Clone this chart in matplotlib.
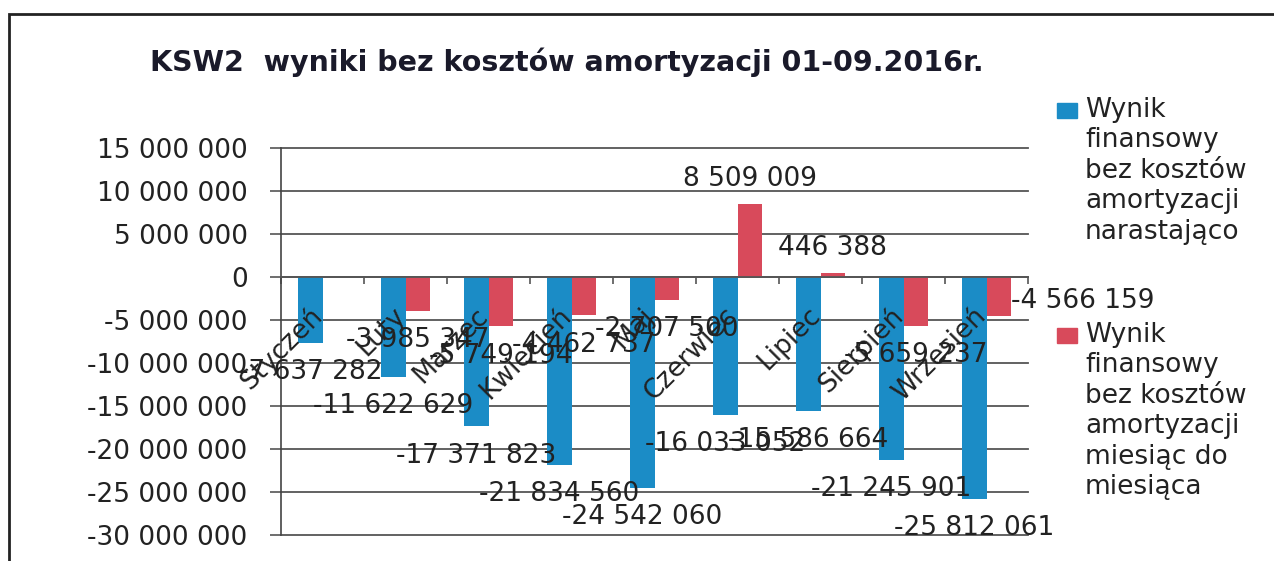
import numpy as np
import matplotlib.pyplot as plt
from matplotlib.patches import Rectangle

months = ["Styczeń", "Luty", "Marzec", "Kwiecień", "Maj", "Czerwiec",
          "Lipiec", "Sierpień", "Wrzesień"]
narastajaco = [-7637282, -11622629, -17371823, -21834560, -24542060,
               -16033052, -15586664, -21245901, -25812061]
miesiac = [np.nan, -3985347, -5749194, -4462737, -2707500,
           8509009, 446388, -5659237, -4566159]
series_names = ["Wynik\nfinansowy\nbez kosztów\namortyzacji\nnarastająco",
                "Wynik\nfinansowy\nbez kosztów\namortyzacji\nmiesiąc do\nmiesiąca"]
title = "KSW2  wyniki bez kosztów amortyzacji 01-09.2016r."

BLUE = "#1b8cc6"
RED = "#d84a5b"
GRID = "#555555"
FS = 19

plt.rcParams["font.family"] = ["DejaVu Sans"]


def fmt(v):
    s = f"{abs(int(round(v))):,}".replace(",", " ")
    return "-" + s if v < 0 else s


fig = plt.figure(figsize=(12.74, 5.61), dpi=100)
ax = fig.add_axes([281 / 1274, 1 - 535 / 561, 747 / 1274, 387 / 561])

x = np.arange(len(months))
w = 0.29
ax.bar(x - w / 2, narastajaco, w, color=BLUE, zorder=2)
ax.bar(x + w / 2, miesiac, w, color=RED, zorder=2)

ax.set_xlim(-0.5, len(months) - 0.5)
ax.set_ylim(-30e6, 15e6)
yt = np.arange(-30e6, 15e6 + 1, 5e6)
ax.set_yticks(yt)
ax.set_yticklabels([fmt(v) for v in yt], fontsize=FS)
ax.yaxis.grid(True, color=GRID, lw=1.3, zorder=0)
for gl in ax.get_ygridlines():
    gl.set_clip_on(False)
ax.tick_params(axis="y", length=8, width=1.2, color=GRID, pad=16, labelcolor="#222222")

for s in ["top", "right"]:
    ax.spines[s].set_visible(False)
ax.spines["left"].set_color("#444444")
ax.spines["left"].set_linewidth(1.2)
ax.spines["bottom"].set_position(("data", 0))
ax.spines["bottom"].set_color(GRID)
ax.spines["bottom"].set_linewidth(1.3)

# category boundaries as tick marks on the zero line
ax.set_xticks(x, [])
ax.tick_params(axis="x", which="major", length=0)
ax.set_xticks(np.arange(-0.5, len(months)), minor=True)
ax.tick_params(axis="x", which="minor", length=5, width=1.2, color=GRID, direction="out")

# rotated month labels under the zero line
for i, m in enumerate(months):
    ax.annotate(m, (i, 0), xytext=(-3, -25), textcoords="offset points",
                ha="right", va="center", rotation=45, rotation_mode="anchor",
                fontsize=FS, color="#222222", zorder=3)

# data labels
for i, v in enumerate(narastajaco):
    ax.annotate(fmt(v), (i - w / 2, v), xytext=(0, -21), textcoords="offset points",
                ha="center", va="center", fontsize=FS, color="#222222", zorder=3)
for i, v in enumerate(miesiac):
    if np.isnan(v):
        continue
    if i == len(miesiac) - 1:
        ax.annotate(fmt(v), (i + w, v), xytext=(0, 11), textcoords="offset points",
                    ha="left", va="center", fontsize=FS, color="#222222", zorder=3)
        continue
    dy = 18 if v > 0 else -21
    ax.annotate(fmt(v), (i + w / 2, v), xytext=(0, dy), textcoords="offset points",
                ha="center", va="center", fontsize=FS, color="#222222", zorder=3)

fig.text(567 / 1274, 1 - 62 / 561, title, ha="center", va="center",
         fontsize=20.5, fontweight="bold", color="#1a1a2a")

# legend drawn by hand
for top, name, c in zip([97, 322], series_names, [BLUE, RED]):
    fig.patches.append(Rectangle((1057 / 1274, 1 - (top + 21) / 561), 20 / 1274, 15 / 561,
                                 transform=fig.transFigure, color=c))
    fig.text(1085 / 1274, 1 - top / 561, name, ha="left", va="top",
             fontsize=FS, linespacing=1.22, color="#222222")

fig.patches.append(Rectangle((9 / 1274, -0.2), 1.5, 1.2 - 14 / 561,
                             transform=fig.transFigure, fill=False,
                             lw=2, edgecolor="#222222"))

fig.savefig("out.png", dpi=100)
